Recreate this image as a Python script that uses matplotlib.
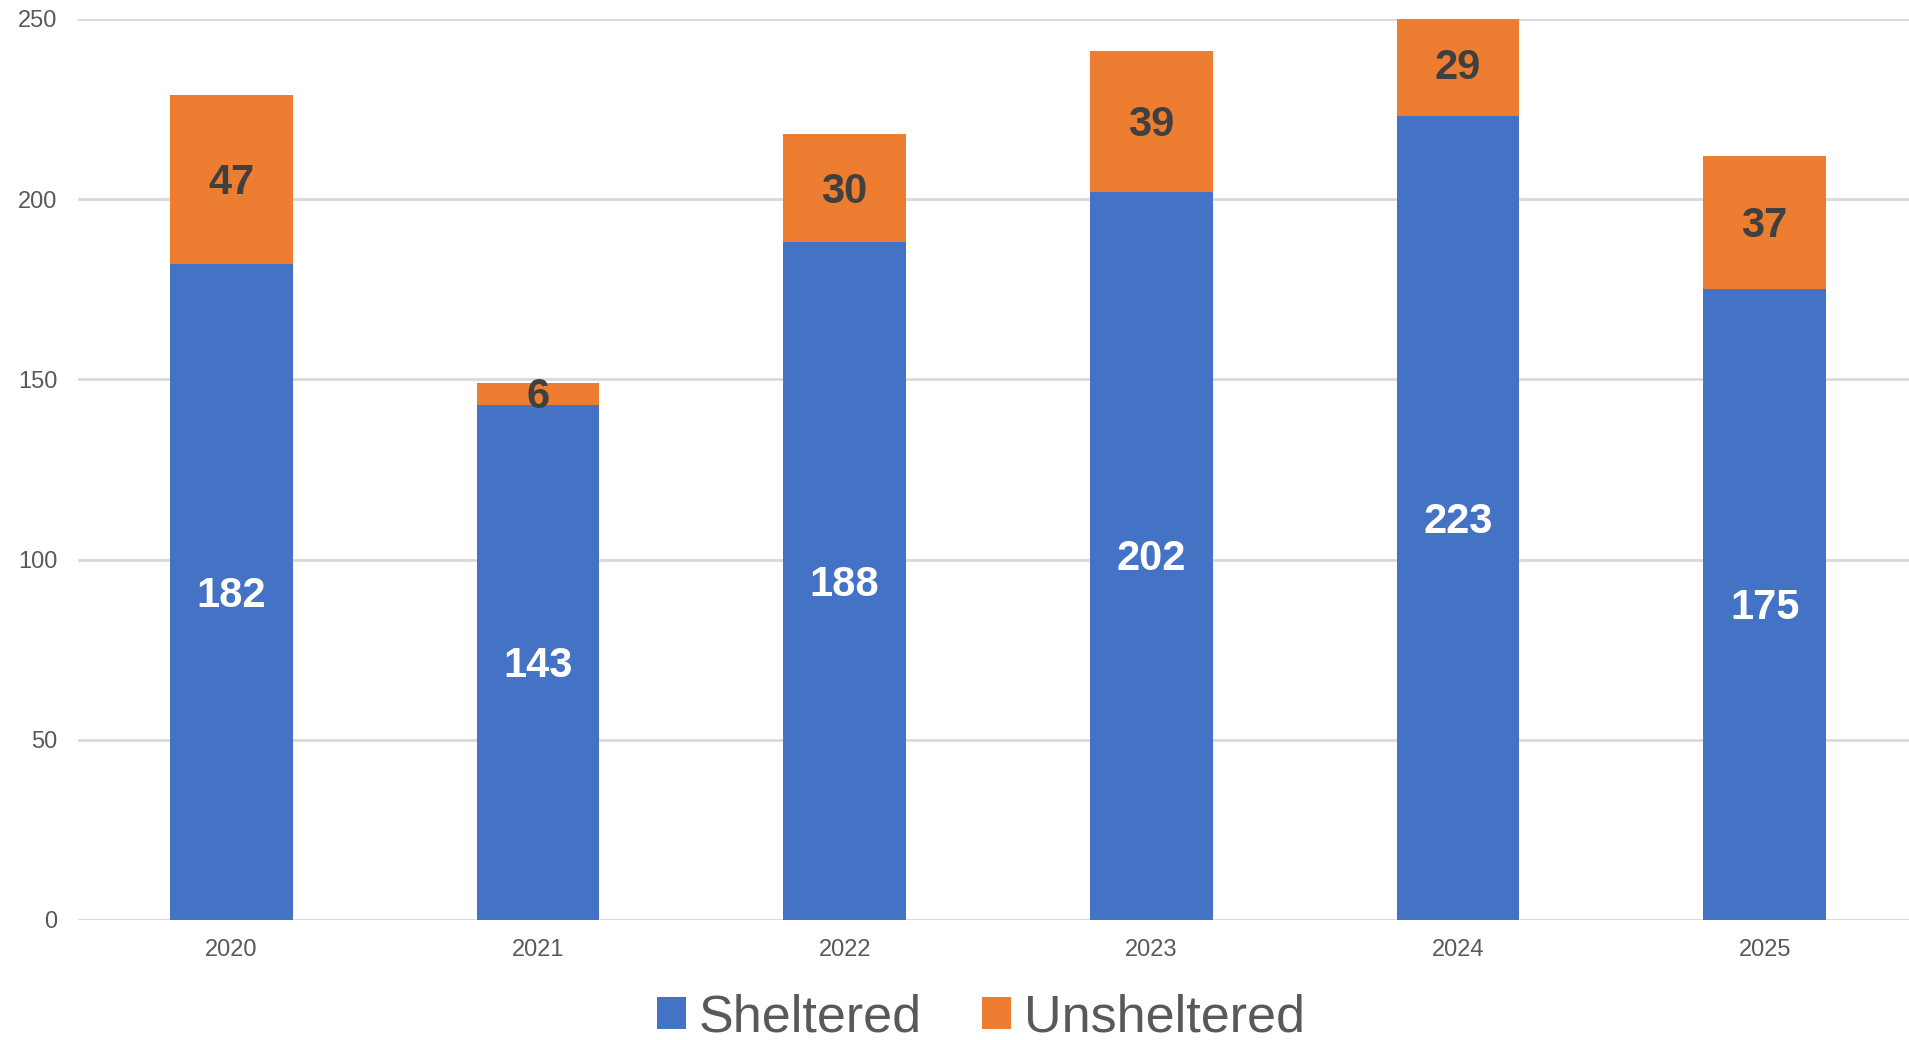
import numpy as np
import matplotlib.pyplot as plt

years = ['2020', '2021', '2022', '2023', '2024', '2025']
sheltered = [182, 143, 188, 202, 223, 175]
unsheltered = [47, 6, 30, 39, 29, 37]

BLUE = '#4472C4'
ORANGE = '#ED7D31'

plt.rcParams['font.family'] = ['Liberation Sans', 'DejaVu Sans']

fig = plt.figure(figsize=(19.09, 10.40), dpi=100)
ax = fig.add_axes([78 / 1909, 1 - 920 / 1040, 1840 / 1909, (920 - 19) / 1040])

x = np.arange(len(years))
b1 = ax.bar(x, sheltered, width=0.4, color=BLUE, label='Sheltered', zorder=2)
b2 = ax.bar(x, unsheltered, width=0.4, bottom=sheltered, color=ORANGE,
            label='Unsheltered', zorder=2)

# value labels, nudged down a little to sit on the segment centre
for i in range(len(years)):
    ax.annotate(str(sheltered[i]), (x[i], sheltered[i] / 2), xytext=(0, -2.5),
                textcoords='offset points', ha='center', va='center',
                color='white', fontsize=30, fontweight='bold', zorder=3)
    ax.annotate(str(unsheltered[i]), (x[i], sheltered[i] + unsheltered[i] / 2),
                xytext=(0, -2.5), textcoords='offset points', ha='center',
                va='center', color='#404040', fontsize=30, fontweight='bold',
                zorder=3)

ax.set_xlim(-0.5, len(years) - 0.5)
ax.set_ylim(0, 250)
ax.set_yticks([0, 50, 100, 150, 200, 250])
ax.set_xticks(x)
ax.set_xticklabels(years)
ax.tick_params(axis='both', length=0, labelsize=17, labelcolor='#595959')
ax.tick_params(axis='y', pad=15)
ax.tick_params(axis='x', pad=14)
ax.yaxis.grid(True, color='#d9d9d9', linewidth=2, zorder=0)
ax.set_axisbelow(True)
for s in ax.spines.values():
    s.set_visible(False)

leg = fig.legend(handles=[b1, b2], loc='center', bbox_to_anchor=(981 / 1909, 1 - 1018 / 1040),
                 ncol=2, frameon=False, fontsize=37.5, handlelength=0.55, handleheight=0.55,
                 handletextpad=0.25, columnspacing=1.15)
for t in leg.get_texts():
    t.set_color('#595959')

fig.savefig('out.png', dpi=100)
